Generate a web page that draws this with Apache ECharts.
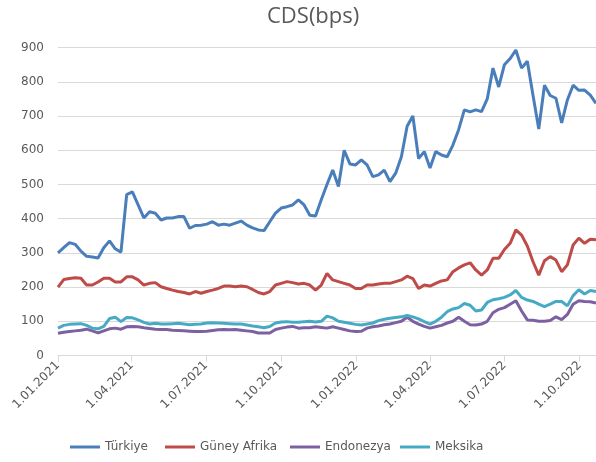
<!DOCTYPE html>
<html><head><meta charset="utf-8">
<script src="https://cdn.jsdelivr.net/npm/echarts@6/dist/echarts.min.js"></script>
<style>html,body{margin:0;padding:0;background:#fff}#c{width:596px;height:462px}</style>
</head><body><div id="c"></div>
<script>
// Sampling grid: one value per week starting at startDate
const startDate = '2021-01-01';
const stepDays = 7;
const endDate = '2022-10-21';
const tickDates = ['2021-01-01','2021-04-01','2021-07-01','2021-10-01','2022-01-01','2022-04-01','2022-07-01','2022-10-01'];
const tickLabels = ['1.01.2021','1.04.2021','1.07.2021','1.10.2021','1.01.2022','1.04.2022','1.07.2022','1.10.2022'];
const seriesNames = ['Türkiye','Güney Afrika','Endonezya','Meksika'];
const yTicks = [0,100,200,300,400,500,600,700,800,900];

const turkiye = [300,315,330,325,305,290,288,285,315,335,312,302,470,478,440,402,420,416,396,402,402,406,406,372,380,381,384,391,381,384,381,387,393,381,373,367,365,391,416,431,435,440,455,440,410,408,455,500,542,494,600,560,557,572,557,523,528,542,508,533,581,670,700,576,596,548,596,586,581,615,660,718,712,718,713,750,840,785,850,868,893,840,860,760,662,790,760,752,680,747,790,775,776,761,737];
const guneyAfrika = [200,222,225,227,226,206,206,215,226,226,215,215,230,230,221,206,211,213,201,196,191,187,184,180,187,182,187,191,196,203,203,201,203,201,193,184,180,187,206,211,216,213,209,211,206,191,206,240,221,216,211,206,196,196,206,206,209,211,211,216,221,232,225,196,206,203,211,218,221,245,256,265,271,250,235,250,284,284,310,328,367,352,320,274,235,277,289,279,245,265,323,343,328,340,338];
const endonezya = [65,68,70,72,74,77,72,66,72,78,80,77,84,85,84,81,79,77,76,76,74,73,72,71,70,70,71,73,75,76,75,76,74,72,70,66,66,66,76,80,83,85,80,81,81,84,82,80,84,80,76,72,70,71,80,84,86,90,92,96,100,112,100,92,85,80,84,88,95,100,112,100,90,89,92,100,125,135,140,150,160,130,104,103,100,100,102,113,105,120,150,160,158,157,153];
const meksika = [80,88,91,92,93,88,80,78,85,108,112,99,111,110,104,97,92,94,92,92,93,94,92,90,91,92,95,96,95,94,93,92,92,89,86,84,81,85,95,98,99,97,97,99,100,98,100,115,110,100,97,94,91,89,92,95,102,106,109,111,113,117,113,107,99,92,100,112,128,136,140,152,147,130,133,155,163,166,170,177,190,170,162,158,150,143,150,158,158,145,175,192,180,190,187];

const colors = ['#4A7EBB','#BE4B48','#7D60A0','#46AAC5'];
const legendLeft = [70, 165, 290, 400];

const DAY = 86400000;
const t0 = Date.parse(startDate + 'T00:00:00Z');
const dayOf = s => Math.round((Date.parse(s + 'T00:00:00Z') - t0) / DAY);
const tickOffsets = tickDates.map(dayOf);
const maxDay = dayOf(endDate);
const toPairs = arr => arr.map((v, i) => [i * stepDays, v]);

const font = 'DejaVu Sans';
const chart = echarts.init(document.getElementById('c'), null, {renderer: 'canvas'});
chart.setOption({
  animation: false,
  backgroundColor: '#fff',
  title: {
    text: 'CDS(bps)', left: 262, top: 1,
    textStyle: {fontFamily: 'Open Sans', fontSize: 22, fontWeight: 'normal', color: '#595959'}
  },
  legend: seriesNames.map((n, k) => ({
    data: [n], left: legendLeft[k], top: 441, padding: 0,
    icon: 'rect', itemWidth: 30, itemHeight: 3,
    textStyle: {fontFamily: font, fontSize: 12, color: '#595959'}
  })),
  grid: {left: 58, right: 0, top: 47.6, bottom: 106.5, containLabel: false},
  xAxis: {
    type: 'value', min: 0, max: maxDay,
    axisLine: {show: true, lineStyle: {color: '#d9d9d9', width: 1}},
    axisTick: {show: true, length: 6, lineStyle: {color: '#d9d9d9'}, customValues: tickOffsets},
    axisLabel: {
      customValues: tickOffsets, rotate: 45, margin: 8,
      fontFamily: font, fontSize: 12, color: '#595959',
      formatter: v => { const k = tickOffsets.indexOf(Math.round(v)); return k >= 0 ? tickLabels[k] : ''; }
    },
    splitLine: {show: false}
  },
  yAxis: {
    type: 'value', min: yTicks[0], max: yTicks[yTicks.length - 1], interval: 100,
    axisLine: {show: false}, axisTick: {show: false},
    axisLabel: {margin: 14, fontFamily: font, fontSize: 12, color: '#595959'},
    splitLine: {lineStyle: {color: '#d9d9d9', width: 1}}
  },
  series: [turkiye, guneyAfrika, endonezya, meksika].map((arr, k) => ({
    name: seriesNames[k], type: 'line', data: toPairs(arr),
    showSymbol: false, symbol: 'none',
    lineStyle: {width: 3, color: colors[k]}, itemStyle: {color: colors[k]}
  }))
});
</script>
</body></html>
